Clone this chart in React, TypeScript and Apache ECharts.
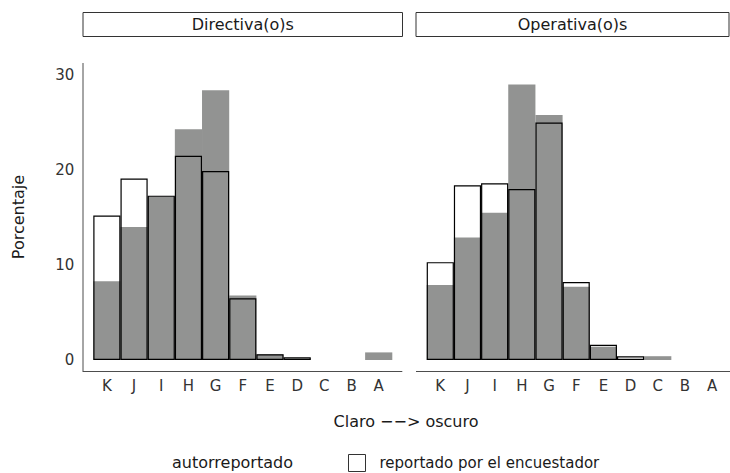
import React, { useEffect, useRef } from "react";
import * as echarts from "echarts";

const categories = ["K", "J", "I", "H", "G", "F", "E", "D", "C", "B", "A"];
const panels = ["Directiva(o)s", "Operativa(o)s"];
const seriesNames = ["autorreportado", "reportado por el encuestador"];
// Directiva(o)s
const dirAuto = [8.3, 14.0, 17.2, 24.3, 28.4, 6.8, 0.6, 0.2, 0, 0, 0.8];
const dirEnc = [15.2, 19.1, 17.3, 21.5, 19.9, 6.5, 0.6, 0.3, 0, 0, 0];
// Operativa(o)s
const opAuto = [7.9, 12.9, 15.5, 29.0, 25.8, 7.7, 1.4, 0, 0.4, 0, 0];
const opEnc = [10.3, 18.4, 18.6, 18.0, 25.0, 8.2, 1.6, 0.4, 0, 0, 0];
const yTicks = [0, 10, 20, 30];
const xTitle = "Claro −−> oscuro";
const yTitle = "Porcentaje";

const FONT = "DejaVu Sans";
const GRAY = "#929392";

export default function App() {
  const ref = useRef<HTMLDivElement>(null);
  useEffect(() => {
    if (!ref.current) return;
    const chart = echarts.init(ref.current, null, { renderer: "svg" });
    const nz = (a: number[]) => a.map((v) => (v > 0 ? v : null));
    const gridTop = 75;
    const gridH = 285;
    const gridW = 299;
    const lefts = [93.3, 426.7];
    const autoData = [dirAuto, opAuto];
    const encData = [dirEnc, opEnc];

    const xAxes: any[] = [];
    const yAxes: any[] = [];
    const series: any[] = [];
    const grids: any[] = [];
    for (let i = 0; i < 2; i++) {
      grids.push({ left: lefts[i], top: gridTop, width: gridW, height: gridH });
      xAxes.push({
        type: "category",
        gridIndex: i,
        data: categories,
        axisLine: { show: false },
        axisTick: { show: false },
        axisLabel: { color: "#333", fontFamily: FONT, fontSize: 15, margin: 18 },
      });
      yAxes.push({
        type: "value",
        gridIndex: i,
        min: 0,
        max: 30,
        interval: 10,
        axisLine: { show: false },
        axisTick: { show: false },
        splitLine: { show: false },
        axisLabel: {
          show: i === 0,
          color: "#333",
          fontFamily: FONT,
          fontSize: 15,
          margin: 19,
          formatter: (v: number) => (yTicks.includes(v) ? String(v) : ""),
        },
      });
      series.push({
        name: seriesNames[0],
        type: "bar",
        xAxisIndex: i,
        yAxisIndex: i,
        data: nz(autoData[i]),
        barGap: "-100%",
        barCategoryGap: "0%",
        itemStyle: { color: GRAY },
        z: 2,
      });
      series.push({
        name: seriesNames[1],
        type: "bar",
        xAxisIndex: i,
        yAxisIndex: i,
        data: nz(encData[i]),
        barGap: "-100%",
        barCategoryGap: "0%",
        itemStyle: { color: "rgba(0,0,0,0)", borderColor: "#000", borderWidth: 1.2 },
        z: 3,
      });
    }

    const axisColor = "#4d4d4d";
    const stripX = [
      [83, 402.5],
      [416, 729],
    ];
    const graphics: any[] = [];
    for (let i = 0; i < 2; i++) {
      graphics.push({
        type: "rect",
        shape: { x: stripX[i][0], y: 12.5, width: stripX[i][1] - stripX[i][0], height: 24 },
        style: { fill: "#fff", stroke: "#333", lineWidth: 1 },
      });
      graphics.push({
        type: "text",
        x: (stripX[i][0] + stripX[i][1]) / 2,
        y: 24.5,
        style: {
          text: panels[i],
          fill: "#1a1a1a",
          font: `16px '${FONT}'`,
          textAlign: "center",
          textVerticalAlign: "middle",
        },
      });
      graphics.push({
        type: "line",
        shape: { x1: stripX[i][0], y1: 371.5, x2: i === 0 ? 402.3 : 730, y2: 371.5 },
        style: { stroke: axisColor, lineWidth: 1 },
      });
    }
    graphics.push({
      type: "line",
      shape: { x1: 83, y1: 63, x2: 83, y2: 372 },
      style: { stroke: axisColor, lineWidth: 1 },
    });
    graphics.push({
      type: "text",
      x: 406,
      y: 421,
      style: {
        text: xTitle,
        fill: "#1a1a1a",
        font: `16px '${FONT}'`,
        textAlign: "center",
        textVerticalAlign: "middle",
      },
    });
    graphics.push({
      type: "text",
      x: 18,
      y: 217,
      rotation: Math.PI / 2,
      style: {
        text: yTitle,
        fill: "#1a1a1a",
        font: `16px '${FONT}'`,
        textAlign: "center",
        textVerticalAlign: "middle",
      },
    });

    chart.setOption({
      animation: false,
      backgroundColor: "#fff",
      grid: grids,
      xAxis: xAxes,
      yAxis: yAxes,
      series,
      legend: [
        {
          left: 150,
          top: 454,
          itemWidth: 17,
          itemHeight: 17,
          padding: 0,
          selectedMode: false,
          data: [
            {
              name: seriesNames[0],
              icon: "rect",
              itemStyle: { color: "rgba(0,0,0,0)", borderWidth: 0, opacity: 0 },
            },
          ],
          textStyle: { color: "#1a1a1a", fontFamily: FONT, fontSize: 16 },
        },
        {
          left: 348,
          top: 454,
          itemWidth: 17,
          itemHeight: 17,
          padding: 0,
          selectedMode: false,
          data: [
            {
              name: seriesNames[1],
              icon: "rect",
              itemStyle: { color: "#fff", borderColor: "#333", borderWidth: 1 },
            },
          ],
          textStyle: { color: "#1a1a1a", fontFamily: FONT, fontSize: 15, padding: [0, 0, 0, 9] },
        },
      ],
      graphic: graphics,
    });
    return () => chart.dispose();
  }, []);
  return (
    <div
      ref={ref}
      style={{ position: "fixed", left: 0, top: 0, width: 730, height: 473 }}
    />
  );
}
